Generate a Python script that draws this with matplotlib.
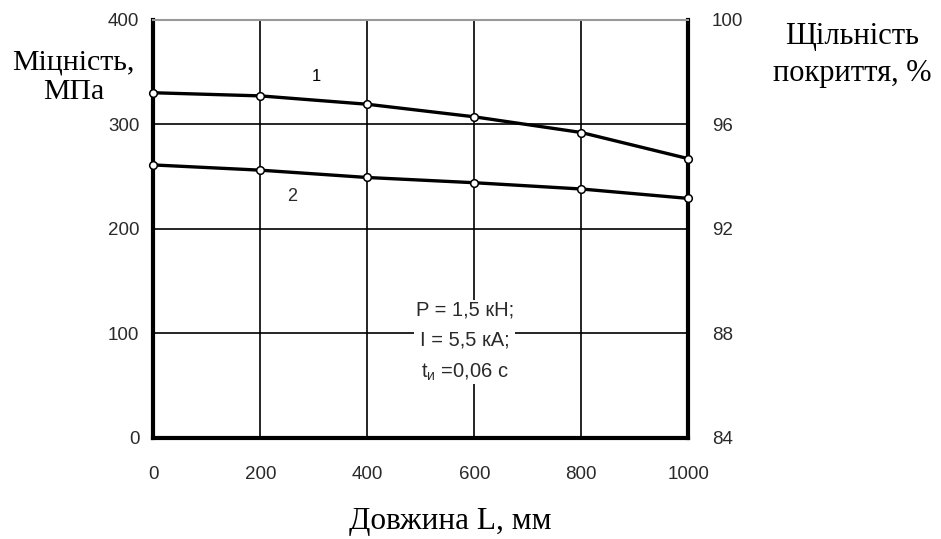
import matplotlib

matplotlib.use("Agg")
import matplotlib.pyplot as plt

# Data
length_mm = [0, 200, 400, 600, 800, 1000]
strength_1 = [330, 327, 319, 307, 292, 267]
strength_2 = [261, 256, 249, 244, 238, 229]

x_ticks = [0, 200, 400, 600, 800, 1000]
left_ticks = [0, 100, 200, 300, 400]
right_ticks = [84, 88, 92, 96, 100]

SANS = "Liberation Sans"
SERIF = "Liberation Serif"

plt.rcParams["mathtext.fontset"] = "custom"
plt.rcParams["mathtext.rm"] = SANS
plt.rcParams["mathtext.it"] = SANS

fig = plt.figure(figsize=(9.41, 5.39), dpi=100)
ax = fig.add_axes([0.1629, 0.1874, 0.5685, 0.7764])

ax.set_xlim(0, 1000)
ax.set_ylim(0, 400)
ax.set_xticks(x_ticks)
ax.set_yticks(left_ticks)
ax.grid(True, color="black", linewidth=1.2)
ax.tick_params(length=0, labelsize=13.5, labelcolor="#2a2a2a")
ax.tick_params(axis="x", pad=20)
ax.tick_params(axis="y", pad=10)
for lab in ax.get_xticklabels() + ax.get_yticklabels():
    lab.set_fontfamily(SANS)

for side in ("left", "right", "bottom"):
    ax.spines[side].set_linewidth(3)
ax.spines["top"].set_linewidth(1.5)
ax.spines["top"].set_color("#999999")

for ys in (strength_1, strength_2):
    ax.plot(length_mm, ys, color="black", linewidth=2.4, marker="o",
            markersize=5.5, markerfacecolor="white", markeredgecolor="black",
            markeredgewidth=1.1, clip_on=False, zorder=5)

ax.text(305, 346, "1", fontsize=12, family=SANS, ha="center", va="center")
ax.text(259, 231, "2", fontsize=13, family=SANS, ha="center", va="center",
        color="#2a2a2a")

ax.text(582, 92, "P = 1,5 кН;\nI = 5,5 кА;\nt$_{и}$ =0,06 с", fontsize=14.5,
        family=SANS, ha="center", va="center", linespacing=1.75,
        color="#2a2a2a",
        bbox=dict(facecolor="white", edgecolor="none", pad=1), zorder=6)

ax2 = ax.twinx()
ax2.set_ylim(84, 100)
ax2.set_yticks(right_ticks)
ax2.tick_params(length=0, labelsize=13.5, labelcolor="#2a2a2a", pad=17)
for lab in ax2.get_yticklabels():
    lab.set_fontfamily(SANS)
for sp in ax2.spines.values():
    sp.set_visible(False)

fig.text(0.078, 0.857, "Міцність,\nМПа", fontsize=21.5, family=SERIF,
         ha="center", va="center", linespacing=1.2)
fig.text(0.906, 0.898, "Щільність\nпокриття, %", fontsize=22, family=SERIF,
         ha="center", va="center", linespacing=1.35)
fig.text(0.479, 0.032, "Довжина L, мм", fontsize=22.5, family=SERIF,
         ha="center", va="center")

fig.savefig("out.png", dpi=100)
